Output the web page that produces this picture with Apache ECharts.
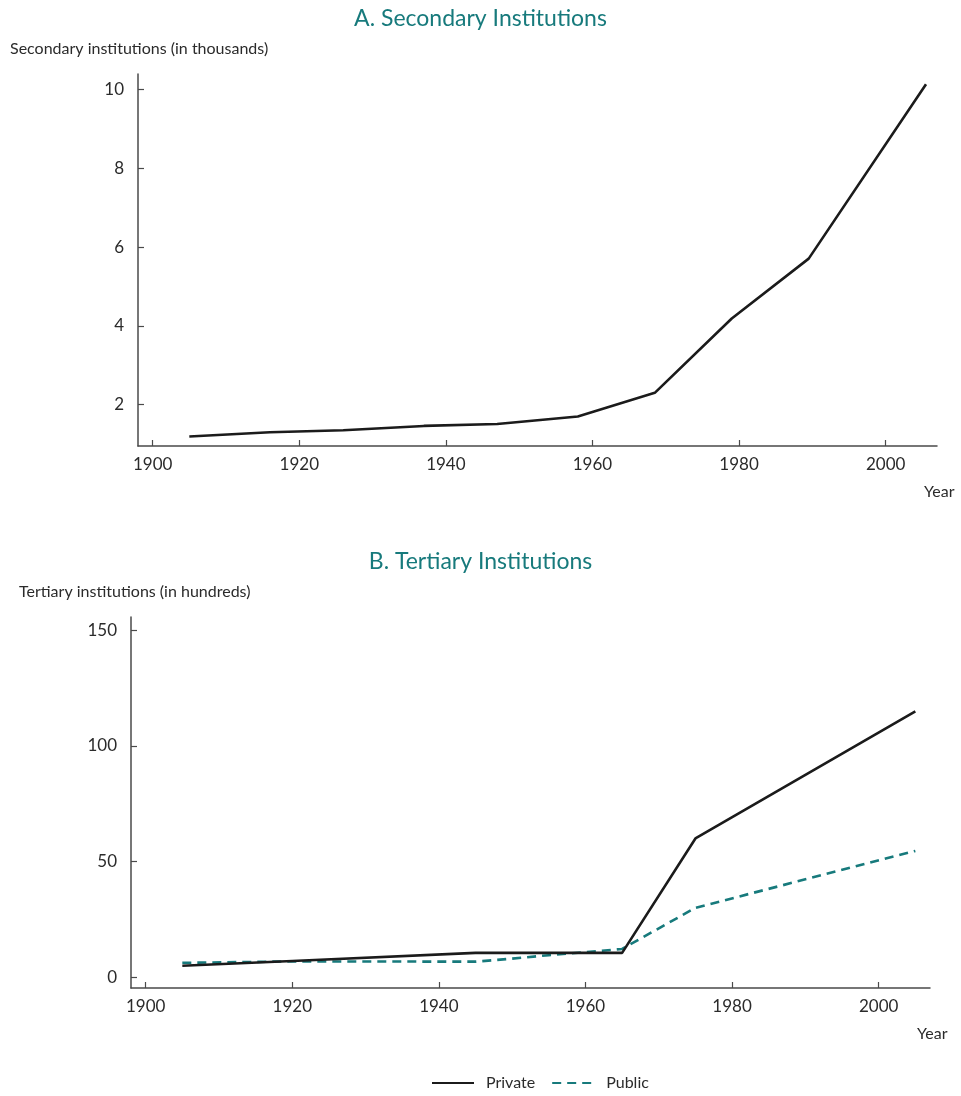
<!DOCTYPE html>
<html>
<head>
<meta charset="utf-8">
<script src="https://cdn.jsdelivr.net/npm/echarts@6/dist/echarts.min.js"></script>
<style>
html,body{margin:0;padding:0;background:#fff;}
#chart{width:961px;height:1096px;}
</style>
</head>
<body>
<div id="chart"></div>
<script>
// ---- data ----
const secondaryYears = [1905, 1916, 1926, 1937, 1947, 1958, 1968.5, 1979, 1989.5, 2005.5];
const secondaryValues = [1.19, 1.30, 1.35, 1.46, 1.51, 1.70, 2.30, 4.19, 5.71, 10.14];

const privateYears = [1905, 1920, 1945, 1965, 1975, 2005];
const privateValues = [4.9, 7.0, 10.5, 10.5, 60, 115];

const publicYears = [1905, 1920, 1945, 1950, 1955, 1960, 1965, 1975, 2005];
const publicValues = [6.2, 6.8, 6.7, 8.0, 9.5, 10.8, 12.2, 30, 54.6];

const yearTicks = [1900, 1920, 1940, 1960, 1980, 2000];
const secondaryTicks = [2, 4, 6, 8, 10];
const tertiaryTicks = [0, 50, 100, 150];

const pairs = (xs, ys) => xs.map((x, i) => [x, ys[i]]);

const FONT = 'Lato';
const TEAL = '#177a7c';
const TEXT = '#2b2b2b';
const AXIS = '#4a4a4a';

function xAxisCfg(gridIndex) {
  return {
    type: 'value', gridIndex, min: 1898, max: 2007,
    axisLine: { show: true, onZero: false, lineStyle: { color: AXIS, width: 1.5 } },
    axisTick: { show: true, inside: true, length: 6, customValues: yearTicks, lineStyle: { color: AXIS, width: 1.2 } },
    axisLabel: { customValues: yearTicks, formatter: v => String(v), color: TEXT, fontFamily: FONT, fontSize: 17, margin: 10 },
    splitLine: { show: false }
  };
}
function yAxisCfg(gridIndex, min, max, ticks) {
  return {
    type: 'value', gridIndex, min, max,
    axisLine: { show: true, onZero: false, lineStyle: { color: AXIS, width: 1.5 } },
    axisTick: { show: true, inside: true, length: 6, customValues: ticks, lineStyle: { color: AXIS, width: 1.2 } },
    axisLabel: { customValues: ticks, formatter: v => String(v), color: TEXT, fontFamily: FONT, fontSize: 17, margin: 14 },
    splitLine: { show: false }
  };
}

const chart = echarts.init(document.getElementById('chart'), null, { renderer: 'canvas' });
chart.setOption({
  backgroundColor: '#fff',
  animation: false,
  title: [
    { text: 'A. Secondary Institutions', left: 'center', top: 2, textStyle: { color: TEAL, fontFamily: FONT, fontSize: 23, fontWeight: 'normal' } },
    { text: 'Secondary institutions (in thousands)', left: 5, top: 36, textStyle: { color: TEXT, fontFamily: FONT, fontSize: 16, fontWeight: 'normal' } },
    { text: 'Year', left: 919, top: 479, textStyle: { color: TEXT, fontFamily: FONT, fontSize: 16, fontWeight: 'normal' } },
    { text: 'B. Tertiary Institutions', left: 'center', top: 545, textStyle: { color: TEAL, fontFamily: FONT, fontSize: 23, fontWeight: 'normal' } },
    { text: 'Tertiary institutions (in hundreds)', left: 14, top: 579, textStyle: { color: TEXT, fontFamily: FONT, fontSize: 16, fontWeight: 'normal' } },
    { text: 'Year', left: 912, top: 1021, textStyle: { color: TEXT, fontFamily: FONT, fontSize: 16, fontWeight: 'normal' } }
  ],
  legend: {
    left: 426, top: 1070, itemWidth: 42, itemHeight: 14, itemGap: 16,
    itemStyle: { opacity: 0 },
    textStyle: { color: TEXT, fontFamily: FONT, fontSize: 16, padding: [0, 0, 0, 7] },
    data: ['Private', 'Public']
  },
  grid: [
    { left: 138, right: 24, top: 74, height: 372 },
    { left: 131, right: 31, top: 617, height: 371 }
  ],
  xAxis: [xAxisCfg(0), xAxisCfg(1)],
  yAxis: [yAxisCfg(0, 0.95, 10.4, secondaryTicks), yAxisCfg(1, -4.7, 155.8, tertiaryTicks)],
  series: [
    {
      name: 'Secondary', type: 'line', xAxisIndex: 0, yAxisIndex: 0,
      data: pairs(secondaryYears, secondaryValues),
      symbol: 'none', lineStyle: { color: '#1b1b1b', width: 2.6 }, itemStyle: { color: '#1b1b1b' }
    },
    {
      name: 'Private', type: 'line', xAxisIndex: 1, yAxisIndex: 1,
      data: pairs(privateYears, privateValues),
      symbol: 'none', lineStyle: { color: '#1b1b1b', width: 2.6 }, itemStyle: { color: '#1b1b1b' }, z: 3
    },
    {
      name: 'Public', type: 'line', xAxisIndex: 1, yAxisIndex: 1,
      data: pairs(publicYears, publicValues),
      symbol: 'none', lineStyle: { color: TEAL, width: 2.6, type: [9, 6] }, itemStyle: { color: TEAL }, z: 2
    }
  ]
});
</script>
</body>
</html>
